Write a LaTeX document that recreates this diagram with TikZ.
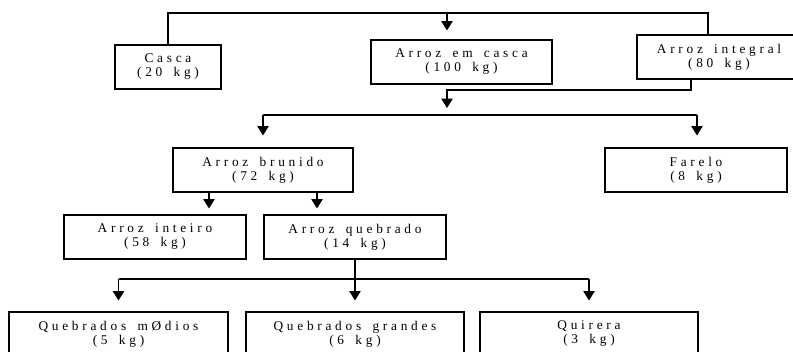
\documentclass[tikz,border=0pt]{standalone}
\usepackage{fontspec}
\setmainfont[LetterSpace=28, WordSpace=1.6]{Liberation Serif}
\usetikzlibrary{arrows.meta}

\begin{document}
\begin{tikzpicture}[x = 0.75pt, y = -0.75pt, line width = 0.8pt]
\tikzstyle{BoxStyle}=[draw, align = center,
                      minimum height = 33pt,
                      inner sep = 0pt,
                      font = \fontsize{10}{10.5}\selectfont]
\tikzstyle{ArrowStyle}=[-{Triangle[width = 8.5pt, length = 7pt]}]
\useasboundingbox (0,0) rectangle (793,352);
\clip (0,0) rectangle (793,352);
\node[BoxStyle, minimum width = 79.5pt] (casca) at (168,67) {Casca\\(20 kg)};
\node[BoxStyle, minimum width = 135.75pt] (emcasca) at (461.5,62) {Arroz em casca\\(100 kg)};
\node[BoxStyle, minimum width = 123pt] (integral) at (719,57) {Arroz integral\\(80 kg)};
\node[BoxStyle, minimum width = 135pt] (brunido) at (263,170) {Arroz brunido\\(72 kg)};
\node[BoxStyle, minimum width = 136.5pt] (farelo) at (696,170) {Farelo\\(8 kg)};
\node[BoxStyle, minimum width = 136.5pt] (inteiro) at (155,237) {Arroz inteiro\\(58 kg)};
\node[BoxStyle, minimum width = 136.5pt] (quebrado) at (355,237) {Arroz quebrado\\(14 kg)};
\node[BoxStyle, minimum width = 164.25pt] (medios) at (118.5,334) {Quebrados mØdios\\(5 kg)};
\node[BoxStyle, minimum width = 163.5pt] (grandes) at (355,334) {Quebrados grandes\\(6 kg)};
\node[BoxStyle, minimum width = 163.5pt] (quirera) at (589,334) {Quirera\\(3 kg)};
\coordinate (top) at (447,13);
\coordinate (tr) at (708,13);
\coordinate (ib) at (691,90);
\coordinate (m1) at (447,90);
\coordinate (m2) at (447,108);
\coordinate (s1) at (263,115);
\coordinate (s2) at (697,115);
\coordinate (b1) at (209,0);
\coordinate (b2) at (317,0);
\coordinate (q) at (355,279);
\draw (casca.north) |- (tr) -- (tr |- integral.north);
\draw[ArrowStyle, shorten > = 6.75pt] (top) -- (top |- emcasca.north);
\draw[ArrowStyle] (ib |- integral.south) -- (ib) -- (m1) -- (m2);
\draw (s1) -- (s2);
\draw[ArrowStyle, shorten > = 9pt] (s1) -- (brunido.north);
\draw[ArrowStyle, shorten > = 9pt] (s2) -- (s2 |- farelo.north);
\draw[ArrowStyle, shorten > = 4.5pt] (b1 |- brunido.south) -- (b1 |- inteiro.north);
\draw[ArrowStyle, shorten > = 4.5pt] (b2 |- brunido.south) -- (b2 |- quebrado.north);
\draw (quebrado.south) -- (q);
\draw (medios.north |- q) -- (quirera.north |- q);
\draw[ArrowStyle, shorten > = 8.25pt] (medios.north |- q) -- (medios.north);
\draw[ArrowStyle, shorten > = 8.25pt] (q) -- (grandes.north);
\draw[ArrowStyle, shorten > = 8.25pt] (quirera.north |- q) -- (quirera.north);
\end{tikzpicture}
\end{document}
